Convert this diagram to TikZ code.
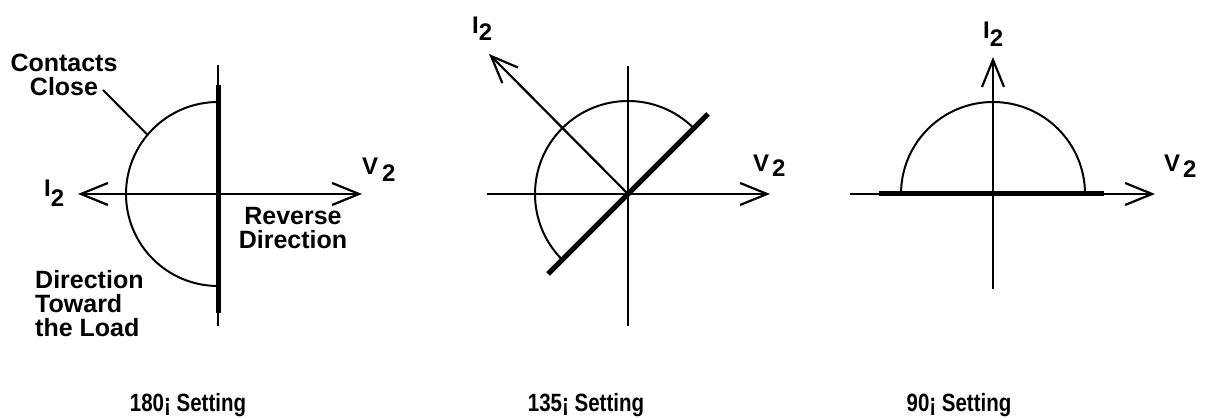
\documentclass[tikz,border=0pt]{standalone}
\usepackage{fontspec}
\setmainfont{Liberation Sans}
\newfontfamily\narrowfont[FakeStretch=0.82]{Liberation Sans}
\usetikzlibrary{arrows.meta}
\begin{document}
\begin{tikzpicture}[x=1pt,y=1pt,
  thinline/.style={line width=2pt},
  thickline/.style={line width=5pt},
  barb/.tip={Straight Barb[length=27pt,width=22pt]},
  axisarrow/.style={line width=2.2pt,-barb},
  lbl/.style={font=\fontsize{25}{24}\selectfont\bfseries, inner sep=0pt},
  sym/.style={font=\fontsize{24}{24}\selectfont\bfseries, inner sep=0pt, anchor=base west},
  capt/.style={font=\narrowfont\fontsize{25}{25}\selectfont\bfseries, inner sep=0pt, anchor=base},
]
\useasboundingbox (0,0) rectangle (1206,419);

% ---------- diagram 1 (180) ----------
\coordinate (o1) at (218,225);
\coordinate (t1) at (218,354);
\coordinate (b1) at (218,93);
\coordinate (tt1) at (218,334);
\coordinate (tb1) at (218,106);
\coordinate (l1) at (78,225);
\coordinate (r1) at (362,225);
\draw[thinline] (218,317) arc[start angle=90,end angle=270,radius=92];
\draw[line width=2.2pt,barb-barb] (l1) -- (r1);
\draw[thinline] (t1) -- (b1);
\draw[thickline] (tt1) -- (tb1);

\node[lbl, align=center, anchor=north] (cc) at (64,365) {Contacts\\Close};
\coordinate (ccl) at (103,329);
\coordinate (cca) at ([shift={(140:92)}]o1);
\draw[thinline] (ccl) -- (cca);
\node[lbl, align=center, anchor=north] (rev) at (293,212) {Reverse\\Direction};
\node[lbl, align=left, anchor=north west] (dtl) at (35,149) {Direction\\Toward\\the Load};
\node[sym] (i2a) at (44,222) {I\raisebox{-10pt}{2}};
\node[sym] (v2a) at (362,244) {V\hspace{4pt}\raisebox{-7pt}{2}};

% ---------- diagram 2 (135) ----------
\coordinate (o2) at (628,225);
\coordinate (t2) at (628,353);
\coordinate (b2) at (628,93);
\coordinate (l2) at (487,225);
\coordinate (r2) at (770,225);
\coordinate (d2a) at (548,145);
\coordinate (d2b) at (708,305);
\coordinate (i2tip) at (489,365);
\draw[thinline] ([shift={(45:93)}]o2) arc[start angle=45,end angle=225,radius=93];
\draw[axisarrow] (l2) -- (r2);
\draw[thinline] (t2) -- (b2);
\draw[axisarrow] (o2) -- (i2tip);
\draw[thickline] (d2a) -- (d2b);
\node[sym] (i2b) at (472,385) {I\raisebox{-7pt}{2}};
\node[sym] (v2b) at (753,247) {V\hspace{3pt}\raisebox{-5pt}{2}};

% ---------- diagram 3 (90) ----------
\coordinate (o3) at (993,225);
\coordinate (t3) at (993,362);
\coordinate (b3) at (993,130);
\coordinate (l3) at (850,225);
\coordinate (r3) at (1155,225);
\coordinate (h3a) at (879,225);
\coordinate (h3b) at (1104,225);
\draw[thinline] (1085,225) arc[start angle=0,end angle=180,radius=92];
\draw[axisarrow] (l3) -- (r3);
\draw[axisarrow] (b3) -- (t3);
\draw[thickline] (h3a) -- (h3b);
\node[sym] (i2c) at (983,380) {I\raisebox{-8pt}{2}};
\node[sym] (v2c) at (1164,247) {V\hspace{3pt}\raisebox{-6pt}{2}};

% ---------- captions ----------
\node[capt] (c1) at (188,7) {180¡ Setting};
\node[capt] (c2) at (586,7) {135¡ Setting};
\node[capt] (c3) at (959,7) {90¡ Setting};
\end{tikzpicture}
\end{document}
